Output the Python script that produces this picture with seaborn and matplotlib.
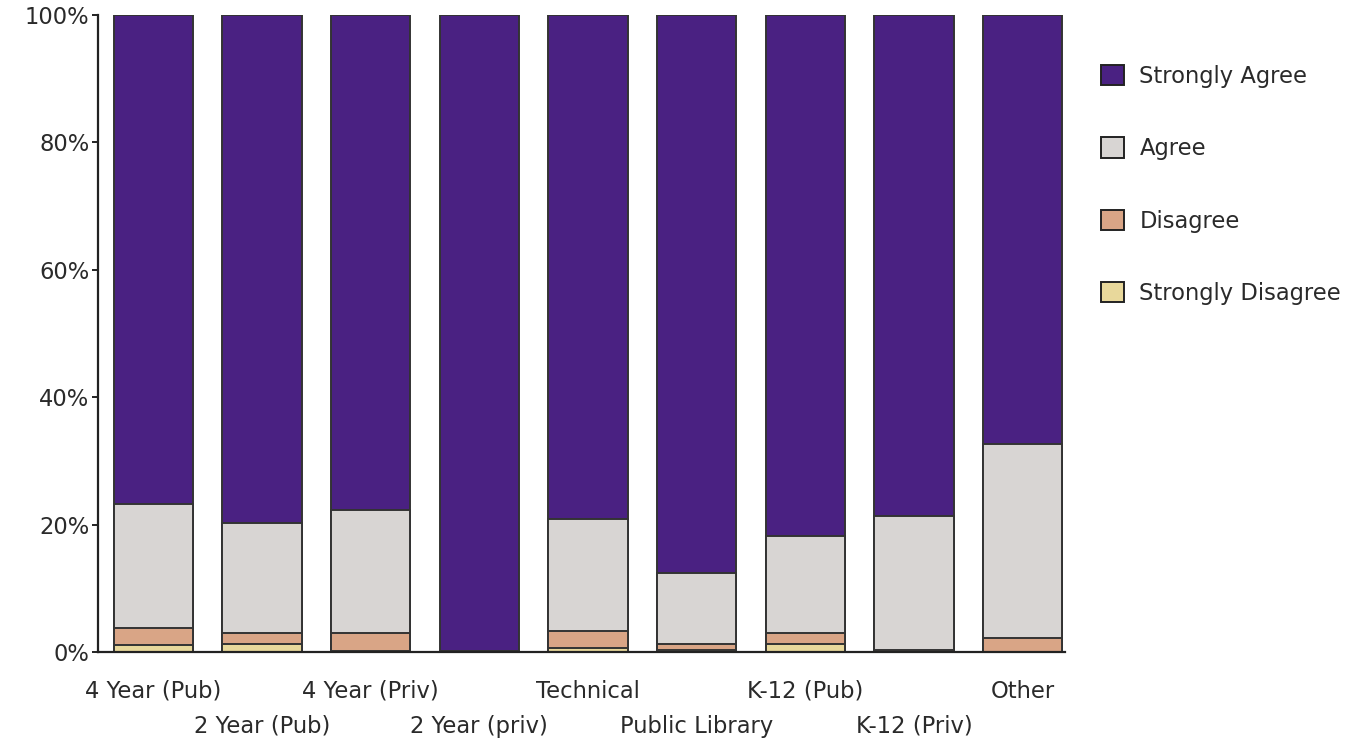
import matplotlib
matplotlib.use("Agg")
import matplotlib.pyplot as plt
import seaborn as sns
import numpy as np
import pandas as pd
from matplotlib.patches import Patch
from matplotlib.ticker import FuncFormatter

categories = ["4 Year (Pub)", "2 Year (Pub)", "4 Year (Priv)", "2 Year (priv)",
              "Technical", "Public Library", "K-12 (Pub)", "K-12 (Priv)", "Other"]
strongly_disagree = [1.1, 1.2, 0.2, 0.0, 0.7, 0.3, 1.3, 0.0, 0.0]
disagree = [2.7, 1.8, 2.8, 0.2, 2.6, 0.9, 1.7, 0.3, 2.2]
agree = [19.4, 17.2, 19.3, 0.0, 17.6, 11.2, 15.2, 21.1, 30.5]
strongly_agree = [100 - a - b - c for a, b, c in zip(agree, disagree, strongly_disagree)]

series_names = ["Strongly Agree", "Agree", "Disagree", "Strongly Disagree"]
series_values = [strongly_agree, agree, disagree, strongly_disagree]
colors = {"Strongly Agree": "#4A2182", "Agree": "#D8D5D3",
          "Disagree": "#D9A586", "Strongly Disagree": "#E8D89B"}
y_ticks = [0, 20, 40, 60, 80, 100]

sns.set_style("white")
plt.rcParams["font.family"] = ["DejaVu Sans"]
text_color = "#2a2a2a"
fs = 16.3

fig = plt.figure(figsize=(13.57, 7.44), dpi=100)
ax = fig.add_axes([98 / 1357, 1 - 652 / 744, (1065 - 98) / 1357, (652 - 15) / 744])

# cumulative stacks, from bottom series upward
cum = np.zeros(len(categories))
stacks = {}
for name, vals in zip(series_names[::-1], series_values[::-1]):
    cum = cum + np.array(vals)
    stacks[name] = cum.copy()

# draw tallest stack first so smaller ones overlay it
for name in series_names:
    df = pd.DataFrame({"category": categories, "value": stacks[name]})
    sns.barplot(data=df, x="category", y="value", order=categories,
                color=colors[name], width=0.73, edgecolor="#333333",
                linewidth=1.4, saturation=1, ax=ax, errorbar=None)

ax.set_xlim(-0.51, 8.39)
ax.set_ylim(0, 100)
ax.set_xlabel("")
ax.set_ylabel("")

ax.set_yticks(y_ticks)
ax.yaxis.set_major_formatter(FuncFormatter(lambda v, p: f"{int(v)}%"))
ax.tick_params(axis="y", which="major", direction="out", length=4, width=1.4,
               color="#222222", labelsize=fs, labelcolor=text_color, pad=2, left=True)

even = list(range(0, len(categories), 2))
odd = list(range(1, len(categories), 2))
ax.set_xticks(even)
ax.set_xticklabels([categories[i] for i in even], fontsize=fs, color=text_color)
ax.set_xticks(odd, minor=True)
ax.set_xticklabels([categories[i] for i in odd], minor=True, fontsize=fs, color=text_color)
ax.tick_params(axis="x", which="major", length=0, pad=20)
ax.tick_params(axis="x", which="minor", length=0, pad=45)

for s in ["top", "right"]:
    ax.spines[s].set_visible(False)
for s in ["left", "bottom"]:
    ax.spines[s].set_color("#222222")
    ax.spines[s].set_linewidth(1.6)

handles = [Patch(facecolor=colors[n], edgecolor="#222222", linewidth=1.4, label=n)
           for n in series_names]
fig.legend(handles=handles, loc="upper left", bbox_to_anchor=(1101 / 1357, 1 - 65 / 744),
           frameon=False, fontsize=fs, handlelength=1.0, handleheight=1.0,
           handletextpad=0.7, labelspacing=2.18, borderpad=0, borderaxespad=0,
           labelcolor=text_color)

fig.savefig("out.png", dpi=100)
